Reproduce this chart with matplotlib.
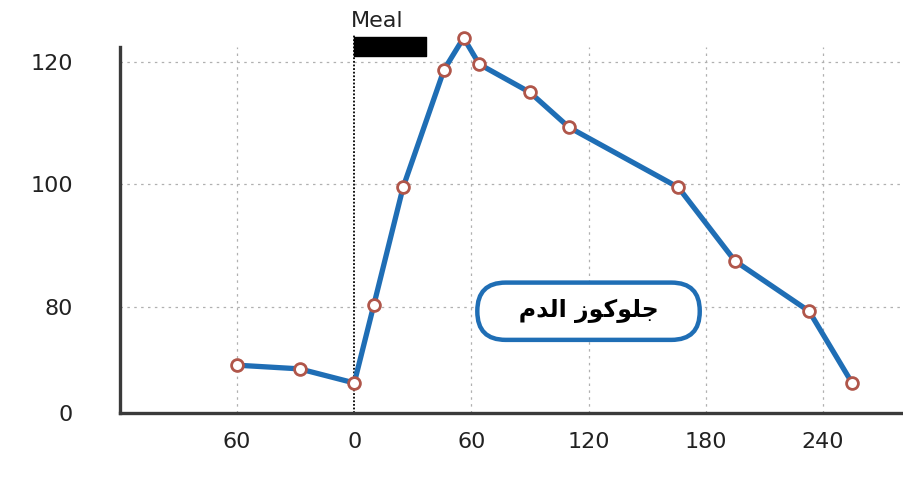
import matplotlib
matplotlib.use("Agg")
import matplotlib.pyplot as plt

# minutes relative to the meal, blood glucose reading
minutes = [-60, -28, 0, 10, 25, 46, 56, 64, 90, 110, 166, 195, 233, 255]
glucose = [70.5, 69.9, 67.6, 80.3, 99.5, 118.7, 123.9, 119.6, 115.0, 109.3, 99.5, 87.5, 79.3, 67.6]

x_ticks = [-60, 0, 60, 120, 180, 240]
x_tick_labels = ["60", "0", "60", "120", "180", "240"]
y_ticks = [62.7, 80, 100, 120]
y_tick_labels = ["0", "80", "100", "120"]
grid_x = [-60, 60, 120, 180, 240]
grid_y = [80, 100, 120]

meal_start, meal_end = 0, 37
# "جلوكوز الدم" in presentation forms, visual order (matplotlib does no shaping)
label_text = "\uFEE1\uFEAA\uFEDF\uFE8D \uFEAF\uFEEE\uFEDB\uFEEE\uFEE0\uFE9F"

LINE_BLUE = "#1f6eb5"
MARKER_EDGE = "#b0564a"
AXIS_GREY = "#3a3a3a"

fig = plt.figure(figsize=(9.04, 4.98), dpi=100)
ax = fig.add_axes([120 / 904, 85 / 498, 1 - 120 / 904, 366 / 498])
ax.set_xlim(-120, 281.6)
ax.set_ylim(62.7, 122.4)

for gx in grid_x:
    ax.axvline(gx, color="#b0b0b0", lw=0.9, ls=(0, (2, 3.5)), zorder=1)
for gy in grid_y:
    ax.axhline(gy, color="#b0b0b0", lw=0.9, ls=(0, (2, 3.5)), zorder=1)

# meal marker: dotted line at t=0 plus the black bar
ax.plot([0, 0], [62.7, 124.5], color="black", lw=1.3, ls=(0, (1, 1)),
        clip_on=False, zorder=2)
ax.fill_between([meal_start, meal_end], 121.0, 124.0, color="black",
                clip_on=False, zorder=2)
ax.text(-1.5, 125.0, "Meal", fontsize=16, color="#222222", ha="left",
        va="bottom", clip_on=False)

ax.plot(minutes, glucose, color=LINE_BLUE, lw=3.8, marker="o", ms=8.5,
        mfc="white", mec=MARKER_EDGE, mew=2, clip_on=False, zorder=3)

ax.text(120, 79.3, "   " + label_text + "   ", fontsize=17, fontweight="bold",
        family=["DejaVu Sans"], ha="center", va="center", zorder=4,
        bbox=dict(boxstyle="round,pad=0.7,rounding_size=1.2", fc="white",
                  ec=LINE_BLUE, lw=3.2))

ax.set_xticks(x_ticks)
ax.set_xticklabels(x_tick_labels)
ax.set_yticks(y_ticks)
ax.set_yticklabels(y_tick_labels)
ax.tick_params(axis="both", length=0, labelsize=16, colors="#222222")
ax.tick_params(axis="x", pad=14)
ax.tick_params(axis="y", pad=34)

for side in ("top", "right"):
    ax.spines[side].set_visible(False)
for side in ("left", "bottom"):
    ax.spines[side].set_color(AXIS_GREY)
    ax.spines[side].set_linewidth(2.4)

fig.savefig("out.png", dpi=100)
